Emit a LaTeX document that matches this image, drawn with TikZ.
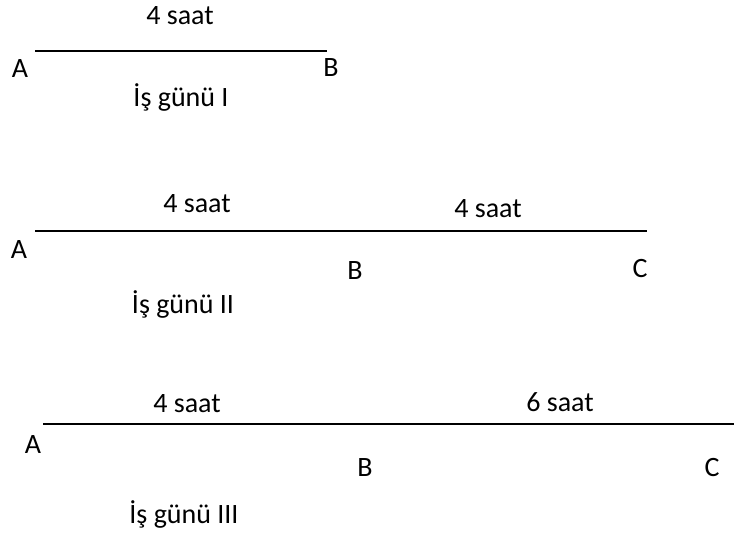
\documentclass[tikz,border=0pt]{standalone}
\usepackage{fontspec}
\setmainfont{Carlito}
\usepackage{tikz}

\begin{document}
\begin{tikzpicture}[x=1pt,y=-1pt,
    lbl/.style={inner sep=0pt,anchor=base,font=\fontsize{28}{32}\selectfont},
    seg/.style={line width=1.8pt}]
  \useasboundingbox (0,0) rectangle (734,536);
  % day I : A -- B  (positions are baselines, y down)
  \coordinate (a1) at (35,51);
  \coordinate (b1) at (327,51);
  \draw[seg] (a1) -- (b1);
  \node[lbl] (t1) at (180,24) {4 saat};
  \node[lbl] (A1) at (20,77) {A};
  \node[lbl] (B1) at (331,76) {B};
  \node[lbl] (g1) at (181,106) {İş günü I};
  % day II : A -- B -- C
  \coordinate (a2) at (35,231);
  \coordinate (c2) at (647,231);
  \draw[seg] (a2) -- (c2);
  \node[lbl] (t2a) at (197,212) {4 saat};
  \node[lbl] (t2b) at (488,217) {4 saat};
  \node[lbl] (A2) at (19,258) {A};
  \node[lbl] (B2) at (355,279) {B};
  \node[lbl] (C2) at (640,277) {C};
  \node[lbl] (g2) at (183,313) {İş günü II};
  % day III : A -- B -- C
  \coordinate (a3) at (43,424);
  \coordinate (c3) at (734,424);
  \draw[seg] (a3) -- (c3);
  \node[lbl] (t3a) at (187,412) {4 saat};
  \node[lbl] (t3b) at (560,411) {6 saat};
  \node[lbl] (A3) at (33,453) {A};
  \node[lbl] (B3) at (365,476) {B};
  \node[lbl] (C3) at (712,476) {C};
  \node[lbl] (g3) at (184,523) {İş günü III};
\end{tikzpicture}
\end{document}
